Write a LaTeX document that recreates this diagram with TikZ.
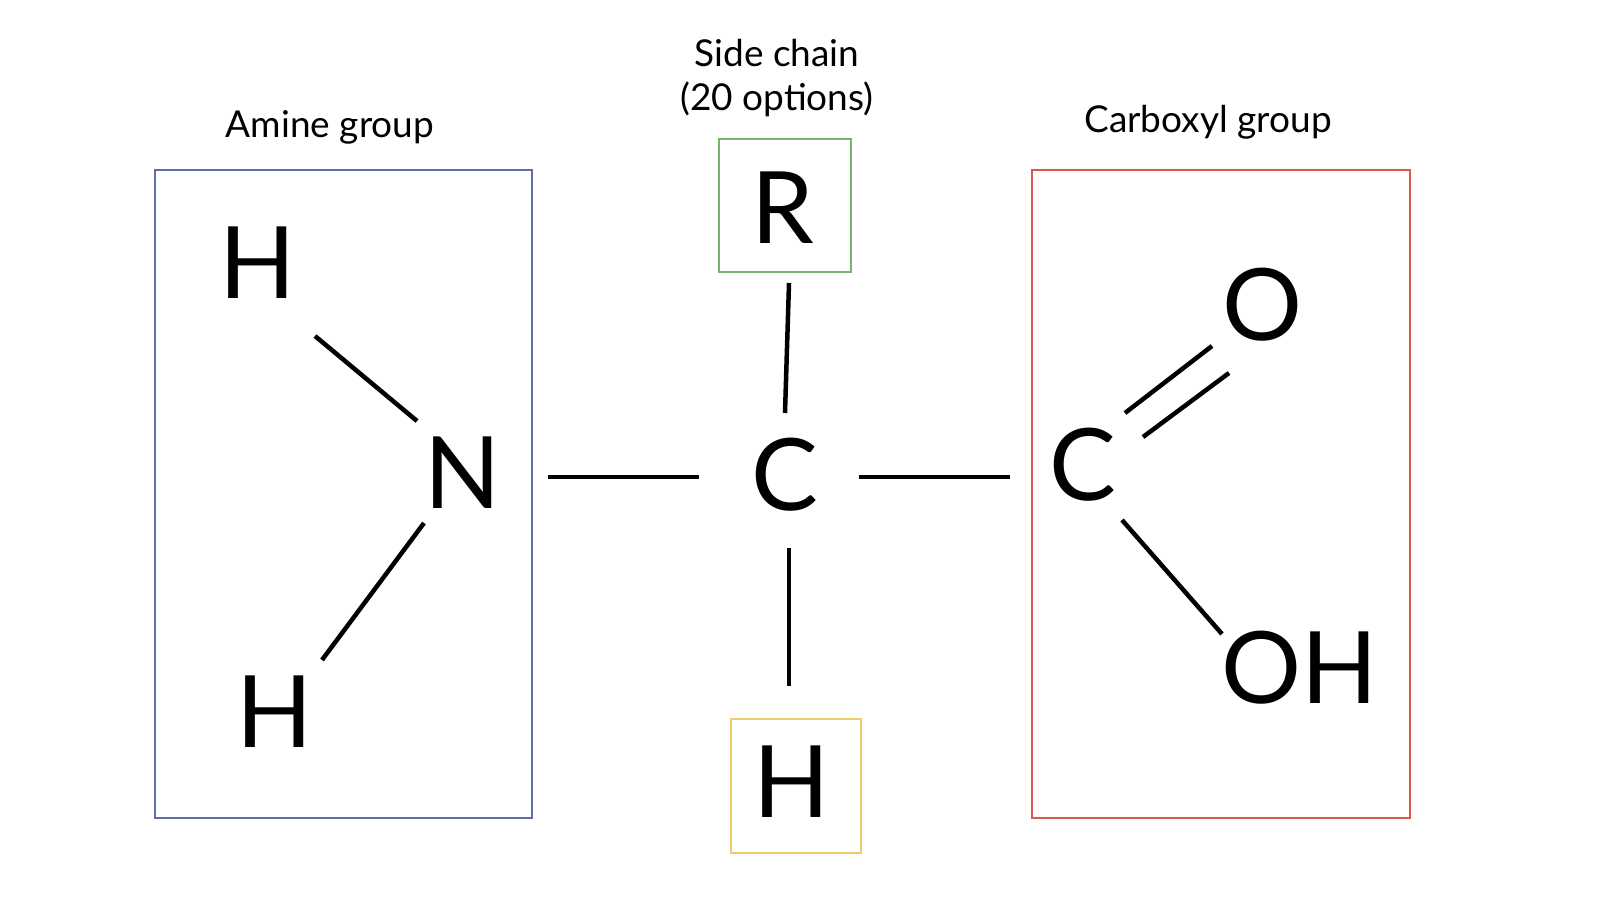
\documentclass[tikz,border=0pt]{standalone}
\usepackage{fontspec}
\setmainfont{Lato}
\begin{document}
\begin{tikzpicture}[x=1pt,y=-1pt,
  atom/.style={font=\fontsize{100}{100}\selectfont, inner sep=0pt},
  lbl/.style={font=\fontsize{37}{44}\selectfont, inner sep=0pt, align=center},
  bond/.style={line width=4.5pt},
  grp/.style={line width=2pt}]
\useasboundingbox (0,0) rectangle (1606,917);
\draw[grp, draw={rgb,255:red,95;green,110;blue,170}] (155,170) rectangle (532,818);
\draw[grp, draw={rgb,255:red,120;green,180;blue,110}] (719,139) rectangle (851,272);
\draw[grp, draw={rgb,255:red,235;green,205;blue,110}] (731,719) rectangle (861,853);
\draw[grp, draw={rgb,255:red,215;green,90;blue,80}] (1032,170) rectangle (1410,818);
\node[lbl] (amine) at (330,127) {Amine group};
\node[lbl] (side) at (777,78) {Side chain\\(20 options)};
\node[lbl] (carb) at (1208,122) {Carboxyl group};
\node[atom] (H1) at (258,263) {H};
\node[atom] (N) at (463,473) {N};
\node[atom] (H2) at (275,712) {H};
\node[atom] (Ca) at (785,475) {C};
\node[atom] (R) at (783,208) {R};
\node[atom] (H3) at (792,782) {H};
\node[atom] (Cc) at (1083,465) {C};
\node[atom] (O) at (1263,305) {O};
\node[atom] (OH) at (1300,668) {OH};
\coordinate (a1) at (315,336); \coordinate (a2) at (417,421);
\coordinate (b1) at (424,523); \coordinate (b2) at (322,660);
\coordinate (c1) at (548,477); \coordinate (c2) at (699,477);
\coordinate (d1) at (789,283); \coordinate (d2) at (785,413);
\coordinate (e1) at (789,548); \coordinate (e2) at (789,686);
\coordinate (f1) at (859,477); \coordinate (f2) at (1010,477);
\coordinate (g1) at (1125,413); \coordinate (g2) at (1212,346);
\coordinate (h1) at (1143,437); \coordinate (h2) at (1229,373);
\coordinate (i1) at (1122,520); \coordinate (i2) at (1222,634);
\foreach \p/\q in {a1/a2,b1/b2,c1/c2,d1/d2,e1/e2,f1/f2,g1/g2,h1/h2,i1/i2}
  \draw[bond] (\p) -- (\q);
\end{tikzpicture}
\end{document}
